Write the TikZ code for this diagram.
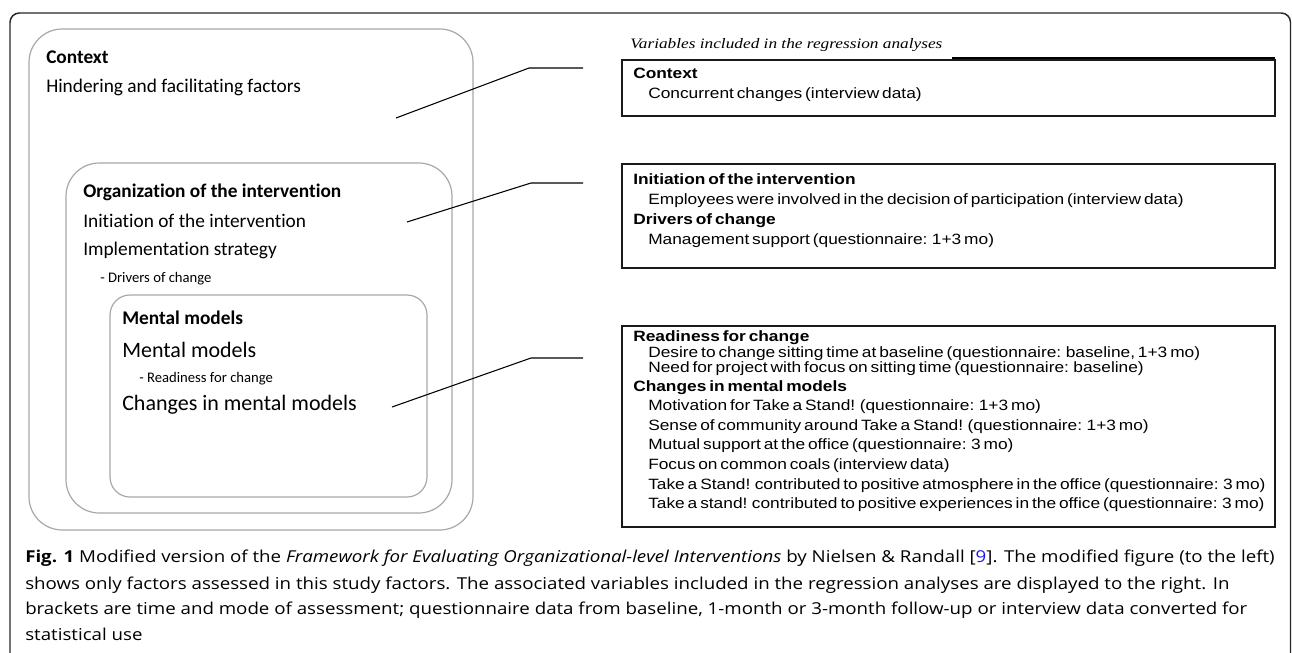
\documentclass[tikz,border=0pt]{standalone}
\usepackage{fontspec}
\setmainfont{Carlito}
\newfontfamily\calfont{Carlito}[Ligatures=NoCommon]
\newfontfamily\arialfont{Liberation Sans}[FakeStretch=1.16,WordSpace=0.6]
\newfontfamily\serfont{Liberation Serif}[FakeStretch=1.2]
\newfontfamily\capfont{Open Sans}[FakeStretch=1.14]
\definecolor{ringgray}{HTML}{A8A8A8}
\definecolor{citeblue}{HTML}{1A1AE6}

\begin{document}
\begin{tikzpicture}[x=0.75pt,y=-0.75pt,
    frame/.style={draw=black!85,line width=1.1pt,rounded corners=7pt},
    ring/.style={draw=ringgray,line width=0.9pt,rounded corners=25pt},
    varbox/.style={draw=black!90,line width=0.8pt},
    leader/.style={draw,line width=0.8pt},
    every node/.style={inner sep=0pt,anchor=base west},
    lhead/.style={font=\calfont\bfseries\fontsize{14.5}{17}\selectfont},
    ltext/.style={font=\calfont\fontsize{14.5}{17}\selectfont},
    lbig/.style={font=\calfont\fontsize{16.5}{19}\selectfont},
    lsmall/.style={font=\calfont\fontsize{11}{13}\selectfont},
    rhead/.style={font=\arialfont\bfseries\fontsize{11.2}{13}\selectfont},
    rtext/.style={font=\arialfont\fontsize{11.2}{13}\selectfont},
    captext/.style={font=\capfont\fontsize{12.3}{14}\selectfont}]

  \useasboundingbox (0,0) rectangle (1292,653);

  % outer frame, open at the bottom
  \draw[frame] (10,13) rectangle (1290.5,700);

  % nested factors
  \draw[ring] (29,29) rectangle (473,530);
  \draw[ring] (66,163) rectangle (452,513);
  \draw[ring,rounded corners=15pt] (110,295) rectangle (427,497);

  \node[lhead] (ctxhead) at (46,63) {Context};
  \node[ltext] (ctxfac)  at (46,92) {Hindering and facilitating factors};

  \node[lhead] (orghead) at (83,197) {Organization of the intervention};
  \node[ltext] (orginit) at (83,227) {Initiation of the intervention};
  \node[ltext] (orgimpl) at (83,255) {Implementation strategy};
  \node[lsmall] (orgdriv) at (100,282) {- Drivers of change};

  \node[lhead] (mmhead) at (122,324) {Mental models};
  \node[lbig] (mmmod)   at (122,357) {Mental models};
  \node[lsmall] (mmready) at (139,382) {- Readiness for change};
  \node[lbig] (mmchg)   at (122,410) {Changes in mental models};

  % variables
  \node[font=\serfont\itshape\fontsize{10.8}{12}\selectfont] (vartitle) at (630,48)
    {Variables included in the regression analyses};
  \coordinate (ruleL) at (952,58);
  \coordinate (ruleR) at (1275,58);
  \draw[line width=0.9pt] (ruleL) -- (ruleR);

  \draw[varbox] (622,60) rectangle (1275,116);
  \node[rhead] (vctx)  at (633,78) {Context};
  \node[rtext] (vconc) at (648,98) {Concurrent changes (interview data)};

  \draw[varbox] (622,164) rectangle (1275,268);
  \node[rhead] (vinit) at (633,184) {Initiation of the intervention};
  \node[rtext] (vempl) at (648,204) {Employees were involved in the decision of participation (interview data)};
  \node[rhead] (vdriv) at (633,224) {Drivers of change};
  \node[rtext] (vmgmt) at (648,244) {Management support (questionnaire: 1+3 mo)};

  \draw[varbox] (622,326) rectangle (1275,527);
  \node[rhead] (vready) at (633,341) {Readiness for change};
  \node[rtext] (vdes)   at (648,357) {Desire to change sitting time at baseline (questionnaire: baseline, 1+3 mo)};
  \node[rtext] (vneed)  at (648,372) {Need for project with focus on sitting time (questionnaire: baseline)};
  \node[rhead] (vchg)   at (633,391) {Changes in mental models};
  \node[rtext] (vmot)   at (648,410) {Motivation for Take a Stand! (questionnaire: 1+3 mo)};
  \node[rtext] (vsense) at (648,430) {Sense of community around Take a Stand! (questionnaire: 1+3 mo)};
  \node[rtext] (vmut)   at (648,449) {Mutual support at the office (questionnaire: 3 mo)};
  \node[rtext] (vfoc)   at (648,469) {Focus on common coals (interview data)};
  \node[rtext] (vatm)   at (648,489) {Take a Stand! contributed to positive atmosphere in the office (questionnaire: 3 mo)};
  \node[rtext] (vexp)   at (648,508) {Take a stand! contributed to positive experiences in the office (questionnaire: 3 mo)};

  % leader lines
  \coordinate (ctxL) at (396,118);
  \coordinate (ctxR) at (583,68);
  \coordinate (orgL) at (407,222);
  \coordinate (orgR) at (583,183);
  \coordinate (mmL)  at (392,407);
  \coordinate (mmR)  at (583,358);
  \draw[leader] (ctxR) -- ++(-54,0) -- (ctxL);
  \draw[leader] (orgR) -- ++(-52,0) -- (orgL);
  \draw[leader] (mmR)  -- ++(-52,0) -- (mmL);

  % caption
  \node[captext] (cap1) at (25,562) {\textbf{Fig. 1} Modified version of the \textit{Framework for Evaluating Organizational-level Interventions} by Nielsen \& Randall [{\color{citeblue}9}]. The modified figure (to the left)};
  \node[captext] (cap2) at (25,589) {shows only factors assessed in this study factors. The associated variables included in the regression analyses are displayed to the right. In};
  \node[captext] (cap3) at (25,614) {brackets are time and mode of assessment; questionnaire data from baseline, 1-month or 3-month follow-up or interview data converted for};
  \node[captext] (cap4) at (25,640) {statistical use};

\end{tikzpicture}
\end{document}
